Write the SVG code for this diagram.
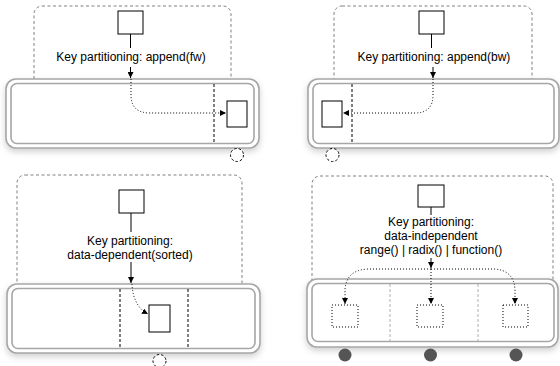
<svg xmlns="http://www.w3.org/2000/svg" width="560" height="366" viewBox="0 0 560 366">
<style>
.frame{fill:none;stroke:#808080;stroke-width:1;stroke-dasharray:3,2.5}
.outer{fill:#fff;stroke:#a6a6a6;stroke-width:1.6}
.inner{fill:#fff;stroke:#a6a6a6;stroke-width:1.6}
.box{fill:#fff;stroke:#000;stroke-width:1}
.solid{fill:none;stroke:#000;stroke-width:1}
.dotted{fill:none;stroke:#000;stroke-width:1;stroke-dasharray:1,2}
.dash{fill:none;stroke:#000;stroke-width:1;stroke-dasharray:3,2}
.ldash{fill:none;stroke:#b0b0b0;stroke-width:1;stroke-dasharray:3,2}
.dbox{fill:#fff;stroke:#000;stroke-width:1;stroke-dasharray:1,2}
.dcirc{fill:#fff;stroke:#000;stroke-width:1;stroke-dasharray:2.5,2}
.fcirc{fill:#555;stroke:none}
text{font-family:"Liberation Sans",Arial,sans-serif;font-size:12px;fill:#000;text-anchor:middle}
</style>
<defs>
<marker id="ah" viewBox="0 0 10 10" refX="10" refY="5" markerWidth="6" markerHeight="6" orient="auto" markerUnits="userSpaceOnUse">
<path d="M0,0 L10,5 L0,10 z" fill="#000"/>
</marker>
<filter id="sh" x="-10%" y="-20%" width="120%" height="160%">
<feDropShadow dx="0" dy="3" stdDeviation="3" flood-color="#000" flood-opacity="0.18"/>
</filter>
</defs>

<g id="panel-fw">
<rect class="frame" x="34" y="6" width="197" height="110" rx="8"/>
<rect class="outer" x="6" y="79" width="253" height="69" rx="10" filter="url(#sh)"/>
<rect class="inner" x="11" y="83.5" width="243" height="60" rx="6"/>
<line class="dash" x1="214" y1="84" x2="214" y2="143"/>
<rect class="box" x="118" y="11" width="25" height="23"/>
<rect class="box" x="227" y="101" width="20" height="26"/>
<circle class="dcirc" cx="237" cy="155" r="6.5"/>
<text x="131" y="61">Key partitioning: append(fw)</text>
</g>

<g id="panel-bw">
<rect class="frame" x="334" y="6" width="198" height="110" rx="8"/>
<rect class="outer" x="308" y="79" width="251" height="69" rx="10" filter="url(#sh)"/>
<rect class="inner" x="313" y="83.5" width="241" height="60" rx="6"/>
<line class="dash" x1="352" y1="84" x2="352" y2="143"/>
<rect class="box" x="419" y="11" width="25" height="23"/>
<rect class="box" x="322" y="101" width="20" height="26"/>
<circle class="dcirc" cx="332.5" cy="155" r="6.5"/>
<text x="434" y="61">Key partitioning: append(bw)</text>
</g>

<g id="panel-sorted">
<rect class="frame" x="17" y="175" width="225" height="140" rx="8"/>
<rect class="outer" x="7" y="284" width="253" height="69" rx="10" filter="url(#sh)"/>
<rect class="inner" x="12" y="288.5" width="243" height="60" rx="6"/>
<line class="dash" x1="120" y1="289" x2="120" y2="348"/>
<line class="dash" x1="188" y1="289" x2="188" y2="348"/>
<rect class="box" x="119" y="190" width="25" height="23"/>
<rect class="box" x="149" y="305" width="21" height="27"/>
<circle class="dcirc" cx="159.5" cy="361" r="6.5"/>
<text x="130" y="245">Key partitioning:</text>
<text x="130" y="259">data-dependent(sorted)</text>
</g>

<g id="panel-independent">
<rect class="frame" x="312" y="176" width="241" height="140" rx="8"/>
<rect class="outer" x="307" y="279" width="251" height="68" rx="10" filter="url(#sh)"/>
<rect class="inner" x="312" y="283.5" width="242" height="58" rx="6"/>
<line class="ldash" x1="390" y1="284" x2="390" y2="341"/>
<line class="ldash" x1="478" y1="284" x2="478" y2="341"/>
<rect class="box" x="418" y="185" width="26" height="22"/>
<rect class="dbox" x="332" y="305" width="26" height="22"/>
<rect class="dbox" x="417" y="305" width="26" height="22"/>
<rect class="dbox" x="503" y="305" width="25" height="22"/>
<circle class="fcirc" cx="345" cy="355" r="6.5"/>
<circle class="fcirc" cx="430.5" cy="355" r="6.5"/>
<circle class="fcirc" cx="516" cy="355" r="6.5"/>
<text x="431" y="226">Key partitioning:</text>
<text x="431" y="240">data-independent</text>
<text x="431" y="254">range() | radix() | function()</text>
</g>

<g id="connectors">
<line class="solid" x1="130.5" y1="34" x2="130.5" y2="48"/>
<line class="solid" x1="130.5" y1="67" x2="130.5" y2="78" marker-end="url(#ah)"/>
<path class="dotted" d="M131,79 L131,95 Q131,113 150,113 L226,113" marker-end="url(#ah)"/>

<line class="solid" x1="431.5" y1="34" x2="431.5" y2="48"/>
<line class="solid" x1="433" y1="67" x2="433" y2="78" marker-end="url(#ah)"/>
<path class="dotted" d="M433,79 L433,95 Q433,113 415,113 L343,113" marker-end="url(#ah)"/>

<line class="solid" x1="131" y1="213" x2="131" y2="232"/>
<line class="solid" x1="131" y1="262" x2="131" y2="283" marker-end="url(#ah)"/>
<path class="dotted" d="M132,284 Q133,306 148,314" marker-end="url(#ah)"/>

<line class="solid" x1="431" y1="207" x2="431" y2="215"/>
<line class="solid" x1="431" y1="258" x2="431" y2="268" marker-end="url(#ah)"/>
<path class="dotted" d="M431,269 L431,304" marker-end="url(#ah)"/>
<path class="dotted" d="M431,269 L368,269 Q346,270 345,290 L345,304" marker-end="url(#ah)"/>
<path class="dotted" d="M431,269 L494,269 Q514,270 515,290 L515,304" marker-end="url(#ah)"/>
</g>
</svg>
